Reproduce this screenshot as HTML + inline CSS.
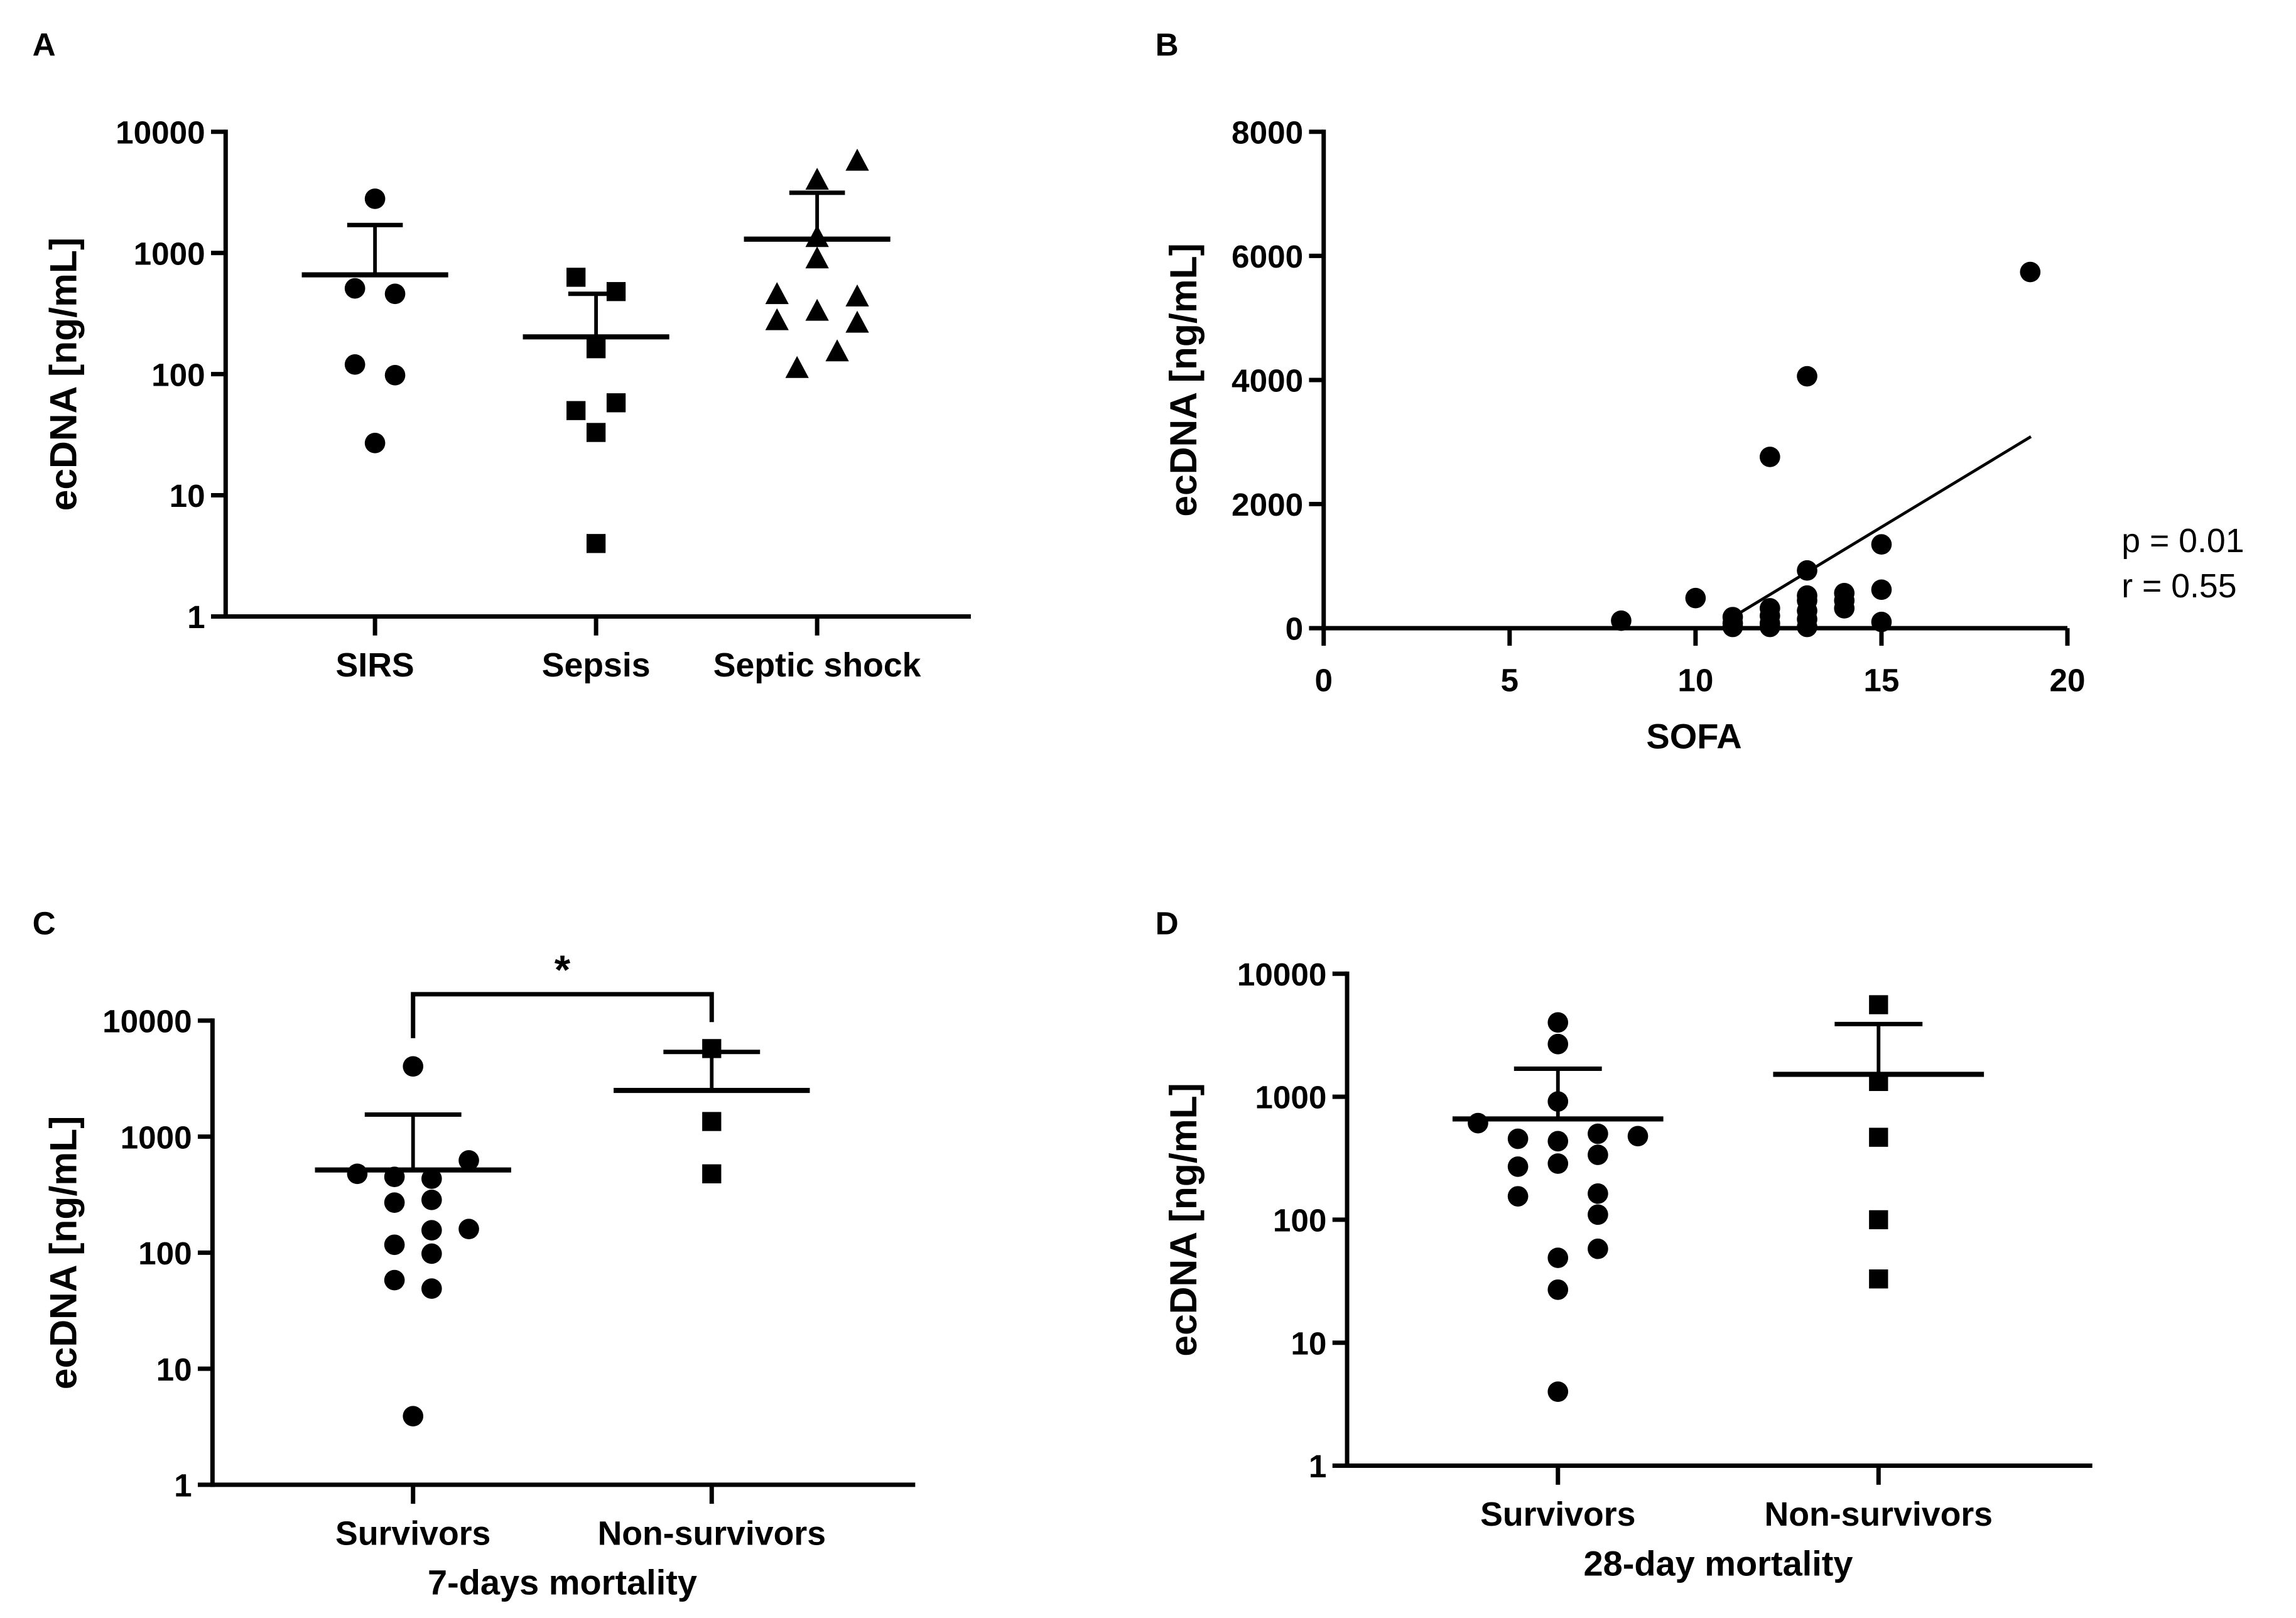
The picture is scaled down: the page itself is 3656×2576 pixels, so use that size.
<!DOCTYPE html>
<html><head><meta charset="utf-8"><style>
html,body{margin:0;padding:0;background:#fff}
svg{display:block}
text{font-family:"Liberation Sans",Arial,sans-serif;fill:#000}
</style></head><body>
<svg id="fig" width="3656" height="2576" viewBox="0 0 1568 1105" xmlns="http://www.w3.org/2000/svg">
<rect width="1568" height="1105" fill="#fff"/>
</svg>
<script>
// ---------- Panel A data ----------
const aCategories = ["SIRS","Sepsis","Septic shock"];
const aSirs = [2800,510,460,120,98,27];
const aSirsCol = [0,-1,1,-1,1,0];
const aSepsis = [630,480,162,50,58,33,4];
const aSepsisCol = [-1,1,0,-1,1,0,0];
const aShock = [5800,4040,1360,907,460,440,280,335,267,155,113];
const aShockCol = [2,0,0,0,-2,2,-2,0,2,1,-1];
const aMeans = [660,203,1300];
const aSemTop = [1700,460,3140];
const logTicks = ["1","10","100","1000","10000"];
// ---------- Panel B data ----------
const bSofa = [8,10,11,11,11,12,12,12,12,12,13,13,13,13,13,13,13,14,14,14,15,15,15,19];
const bEcdna = [121,485,178,20,80,2760,320,200,80,20,4060,930,525,445,280,145,20,565,445,320,1350,620,100,5740];
const bFitX = [11.06,19.02];
const bFitY = [200,3087];
const bYTicks = ["0","2000","4000","6000","8000"];
const bXTicks = ["0","5","10","15","20"];
// ---------- Panel C data ----------
const cCategories = ["Survivors","Non-survivors"];
const cSurv = [4030,478,450,434,624,270,285,156,160,117,98,58,49,3.9];
const cSurvCol = [0,-3,-1,1,3,-1,1,1,3,-1,1,-1,1,0];
const cNon = [5740,1350,478];
const cNonCol = [0,0,0];
const cMeans = [516,2500];
const cSemTop = [1550,5370];
// ---------- Panel D data ----------
const dCategories = ["Survivors","Non-survivors"];
const dSurv = [4017,2680,915,610,455,435,500,478,270,286,337,155,163,110,58,49,27,4];
const dSurvCol = [0,0,0,-2,-1,0,1,2,-1,0,1,-1,1,1,1,0,0,0];
const dNon = [5600,1330,468,100,33];
const dNonCol = [0,0,0,0,0];
const dMeans = [660,1520];
const dSemTop = [1690,3900];

const svg = document.getElementById('fig');
const NS = "http://www.w3.org/2000/svg";
function el(tag, attrs, parent){
  const e = document.createElementNS(NS, tag);
  for (const k in attrs) e.setAttribute(k, attrs[k]);
  (parent||svg).appendChild(e);
  return e;
}
function txt(str, x, y, size, weight, anchor, parent){
  const t = el('text', {x:x, y:y, 'font-size':size, 'font-weight':weight, 'text-anchor':anchor}, parent);
  t.textContent = str;
  return t;
}
function marker(shape, cx, cy, g){
  let m;
  if (shape==='circle') m = el('ellipse',{cx:cx,cy:cy,rx:7,ry:7,fill:'#000'},g);
  else if (shape==='square') m = el('rect',{x:cx-6.5,y:cy-6.5,width:13,height:13,fill:'#000'},g);
  else m = el('polygon',{points:`${cx},${cy-8} ${cx+8},${cy+7} ${cx-8},${cy+7}`,fill:'#000'},g);
  
  
  return m;
}

function logPanel(o){
  const g = el('g',{});
  
  
  const y = v => o.y1 - (Math.log10(v)/4)*(o.y1-o.y0);
  const L = txt(o.letter, o.lx, o.ly, 22, 'bold', 'start', g);
   
  const ya = el('line',{x1:o.x0,y1:o.y0-1.5,x2:o.x0,y2:o.y1+1.5,stroke:'#000','stroke-width':3},g);
   
  const xa = el('line',{x1:o.x0-1.5,y1:o.y1,x2:o.xEnd,y2:o.y1,stroke:'#000','stroke-width':3},g);
   
  logTicks.forEach(t=>{
    const yy = y(+t);
    el('line',{x1:o.x0-10,y1:yy,x2:o.x0,y2:yy,stroke:'#000','stroke-width':3},g);
    const tl = txt(t, o.x0-14, yy+8, 22, 'bold', 'end', g);
     
  });
  const yt = txt('ecDNA [ng/mL]', 0, 0, 26, 'bold', 'middle', g);
  yt.setAttribute('transform', `translate(${o.ytx},${(o.y0+o.y1)/2}) rotate(-90)`);
   
  o.groups.forEach((gr,i)=>{
    const cx = o.cats[i];
    el('line',{x1:cx,y1:o.y1,x2:cx,y2:o.y1+13,stroke:'#000','stroke-width':3},g);
    const cl = txt(gr.label, cx, o.y1+41, 23, 'bold', 'middle', g);
     
    gr.vals.forEach((v,j)=> marker(gr.shape, cx + gr.col[j]*o.jit, y(v), g));
    const ym = y(gr.mean), ys = y(gr.sem);
    const ml = el('line',{x1:cx-o.mw,y1:ym,x2:cx+o.mw,y2:ym,stroke:'#000','stroke-width':3.5},g);
     
    const sl = el('line',{x1:cx,y1:ym,x2:cx,y2:ys,stroke:'#000','stroke-width':2.5},g);
     
    el('line',{x1:cx-o.cw,y1:ys,x2:cx+o.cw,y2:ys,stroke:'#000','stroke-width':3},g);
  });
  if (o.xtitle){
    const xt = txt(o.xtitle, (o.cats[0]+o.cats[1])/2, o.y1+75, 24, 'bold', 'middle', g);
     
  }
  return {g:g, y:y};
}

logPanel({name:'panel-a', letter:'A', lx:22, ly:38, x0:154, y0:90, y1:421, xEnd:663, cats:[256,407,558], jit:13.7, mw:50, cw:19, ytx:52,
  groups:[
    {label:aCategories[0], vals:aSirs, col:aSirsCol, shape:'circle', mean:aMeans[0], sem:aSemTop[0]},
    {label:aCategories[1], vals:aSepsis, col:aSepsisCol, shape:'square', mean:aMeans[1], sem:aSemTop[1]},
    {label:aCategories[2], vals:aShock, col:aShockCol, shape:'triangle', mean:aMeans[2], sem:aSemTop[2]}
  ]});

const pc = logPanel({name:'panel-c', letter:'C', lx:22, ly:638, x0:145, y0:697, y1:1014, xEnd:625, cats:[282,486], jit:12.7, mw:67, cw:33, ytx:52, xtitle:'7-days mortality',
  groups:[
    {label:cCategories[0], vals:cSurv, col:cSurvCol, shape:'circle', mean:cMeans[0], sem:cSemTop[0]},
    {label:cCategories[1], vals:cNon, col:cNonCol, shape:'square', mean:cMeans[1], sem:cSemTop[1]}
  ]});
const br = el('polyline',{points:'282,709 282,679 486,679 486,698',fill:'none',stroke:'#000','stroke-width':3},pc.g);
 
const star = txt('*', 384, 672, 28, 'bold', 'middle', pc.g);
 

logPanel({name:'panel-d', letter:'D', lx:789, ly:638, x0:920, y0:665, y1:1001, xEnd:1429, cats:[1064,1283], jit:27.3, mw:72, cw:30, ytx:817, xtitle:'28-day mortality',
  groups:[
    {label:dCategories[0], vals:dSurv, col:dSurvCol, shape:'circle', mean:dMeans[0], sem:dSemTop[0]},
    {label:dCategories[1], vals:dNon, col:dNonCol, shape:'square', mean:dMeans[1], sem:dSemTop[1]}
  ]});

(function(){
  const g = el('g',{});
   
  const x0=904, x1=1412, y0=90, y1=429;
  const sx = v => x0 + (v/20)*(x1-x0);
  const sy = v => y1 - (v/8000)*(y1-y0);
  const L = txt('B', 789, 38, 22, 'bold', 'start', g);
   
  const ya = el('line',{x1:x0,y1:y0-1.5,x2:x0,y2:y1+1.5,stroke:'#000','stroke-width':3},g);
   
  const xa = el('line',{x1:x0-1.5,y1:y1,x2:x1,y2:y1,stroke:'#000','stroke-width':3},g);
   
  bYTicks.forEach(t=>{
    const yy = sy(+t);
    el('line',{x1:x0-10,y1:yy,x2:x0,y2:yy,stroke:'#000','stroke-width':3},g);
    const tl = txt(t, x0-14, yy+8, 22, 'bold', 'end', g);
     
  });
  bXTicks.forEach(t=>{
    const xx = sx(+t);
    el('line',{x1:xx,y1:y1,x2:xx,y2:y1+12,stroke:'#000','stroke-width':3},g);
    const tl = txt(t, xx, y1+43, 22, 'bold', 'middle', g);
     
  });
  const yt = txt('ecDNA [ng/mL]', 0, 0, 26, 'bold', 'middle', g);
  yt.setAttribute('transform', `translate(817,${(y0+y1)/2}) rotate(-90)`);
   
  const xt = txt('SOFA', 1157, 511, 24, 'bold', 'middle', g);
   
  bSofa.forEach((s,i)=> marker('circle', sx(s), sy(bEcdna[i]), g));
  const fl = el('line',{x1:sx(bFitX[0]),y1:sy(bFitY[0]),x2:sx(bFitX[1]),y2:sy(bFitY[1]),stroke:'#000','stroke-width':2},g);
   
  const p = txt('p = 0.01', 1449, 377, 23, 'normal', 'start', g);
   
  const r = txt('r = 0.55', 1449, 408, 23, 'normal', 'start', g);
   
})();
</script>
</body></html>
